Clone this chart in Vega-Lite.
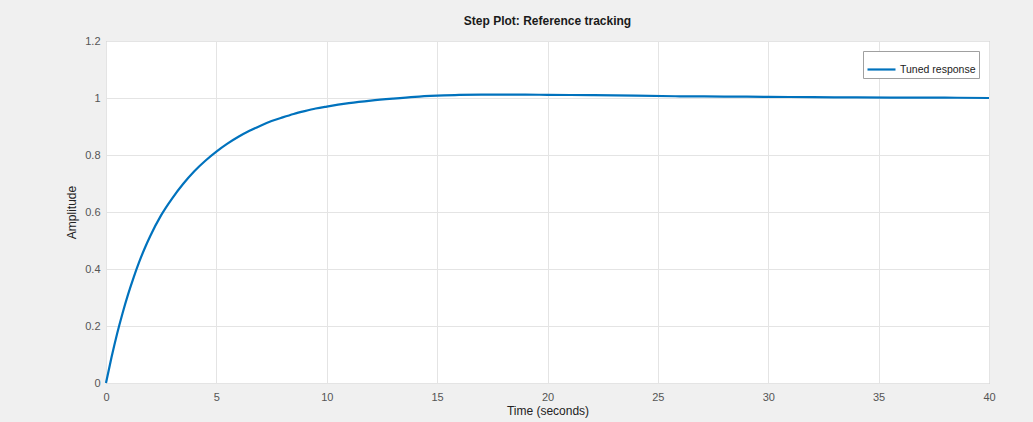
{
  "$schema": "https://vega.github.io/schema/vega-lite/v6.json",
  "width": 883,
  "height": 342,
  "autosize": {"type": "none"},
  "padding": {"left": 106, "top": 41, "right": 44, "bottom": 39},
  "background": "#f0f0f0",
  "title": {
    "text": "Step Plot: Reference tracking",
    "font": "Liberation Sans",
    "fontSize": 12,
    "fontWeight": "bold",
    "color": "#1a1a1a",
    "anchor": "middle",
    "offset": 7
  },
  "config": {
    "font": "Liberation Sans",
    "view": {"fill": "white", "stroke": "#acacac", "strokeWidth": 1}
  },
  "data": {
    "values": [
      {"t": 0, "y": 0},
      {"t": 0.25, "y": 0.09},
      {"t": 0.5, "y": 0.172},
      {"t": 0.75, "y": 0.245},
      {"t": 1, "y": 0.311},
      {"t": 1.25, "y": 0.37},
      {"t": 1.5, "y": 0.424},
      {"t": 1.75, "y": 0.472},
      {"t": 2, "y": 0.515},
      {"t": 2.5, "y": 0.589},
      {"t": 3, "y": 0.648},
      {"t": 3.5, "y": 0.699},
      {"t": 4, "y": 0.743},
      {"t": 4.5, "y": 0.78},
      {"t": 5, "y": 0.812},
      {"t": 5.5, "y": 0.84},
      {"t": 6, "y": 0.864},
      {"t": 6.5, "y": 0.885},
      {"t": 7, "y": 0.903},
      {"t": 7.5, "y": 0.919},
      {"t": 8, "y": 0.932},
      {"t": 8.5, "y": 0.944},
      {"t": 9, "y": 0.954},
      {"t": 9.5, "y": 0.963},
      {"t": 10, "y": 0.97},
      {"t": 11, "y": 0.982},
      {"t": 12, "y": 0.991},
      {"t": 13, "y": 0.998},
      {"t": 14, "y": 1.004},
      {"t": 15, "y": 1.008},
      {"t": 16, "y": 1.011},
      {"t": 17, "y": 1.012},
      {"t": 18, "y": 1.012},
      {"t": 19, "y": 1.012},
      {"t": 20, "y": 1.011},
      {"t": 22, "y": 1.01},
      {"t": 24, "y": 1.008},
      {"t": 26, "y": 1.006},
      {"t": 28, "y": 1.005},
      {"t": 30, "y": 1.004},
      {"t": 32, "y": 1.003},
      {"t": 34, "y": 1.002},
      {"t": 36, "y": 1.001},
      {"t": 38, "y": 1.001},
      {"t": 40, "y": 1.0}
    ]
  },
  "mark": {"type": "line", "strokeWidth": 2.2, "interpolate": "monotone"},
  "encoding": {
    "x": {
      "field": "t",
      "type": "quantitative",
      "scale": {"domain": [0, 40], "nice": false},
      "axis": {
        "title": "Time (seconds)",
        "values": [0, 5, 10, 15, 20, 25, 30, 35, 40],
        "grid": true,
        "gridColor": "#e4e4e4",
        "domain": false,
        "ticks": false,
        "labelPadding": 8,
        "labelFontSize": 11,
        "labelColor": "#555555",
        "labelFlush": false,
        "titleFontSize": 12,
        "titleFontWeight": "normal",
        "titleColor": "#222222",
        "titlePadding": 3
      }
    },
    "y": {
      "field": "y",
      "type": "quantitative",
      "scale": {"domain": [0, 1.2], "nice": false},
      "axis": {
        "title": "Amplitude",
        "values": [0, 0.2, 0.4, 0.6, 0.8, 1, 1.2],
        "labelExpr": "format(datum.value, '~g')",
        "grid": true,
        "gridColor": "#e4e4e4",
        "domain": false,
        "ticks": false,
        "labelPadding": 6,
        "labelFontSize": 11,
        "labelColor": "#555555",
        "labelFlush": false,
        "titleFontSize": 12,
        "titleFontWeight": "normal",
        "titleColor": "#222222",
        "titlePadding": 6
      }
    },
    "color": {
      "datum": "Tuned response",
      "type": "nominal",
      "scale": {"range": ["#0072BD"]},
      "legend": {
        "title": null,
        "orient": "top-right",
        "offset": 10,
        "padding": 3,
        "fillColor": "white",
        "strokeColor": "#a0a0a0",
        "symbolType": "stroke",
        "symbolSize": 784,
        "symbolStrokeWidth": 2.2,
        "labelFontSize": 10.5,
        "labelColor": "#222222",
        "labelOffset": 3
      }
    }
  }
}
